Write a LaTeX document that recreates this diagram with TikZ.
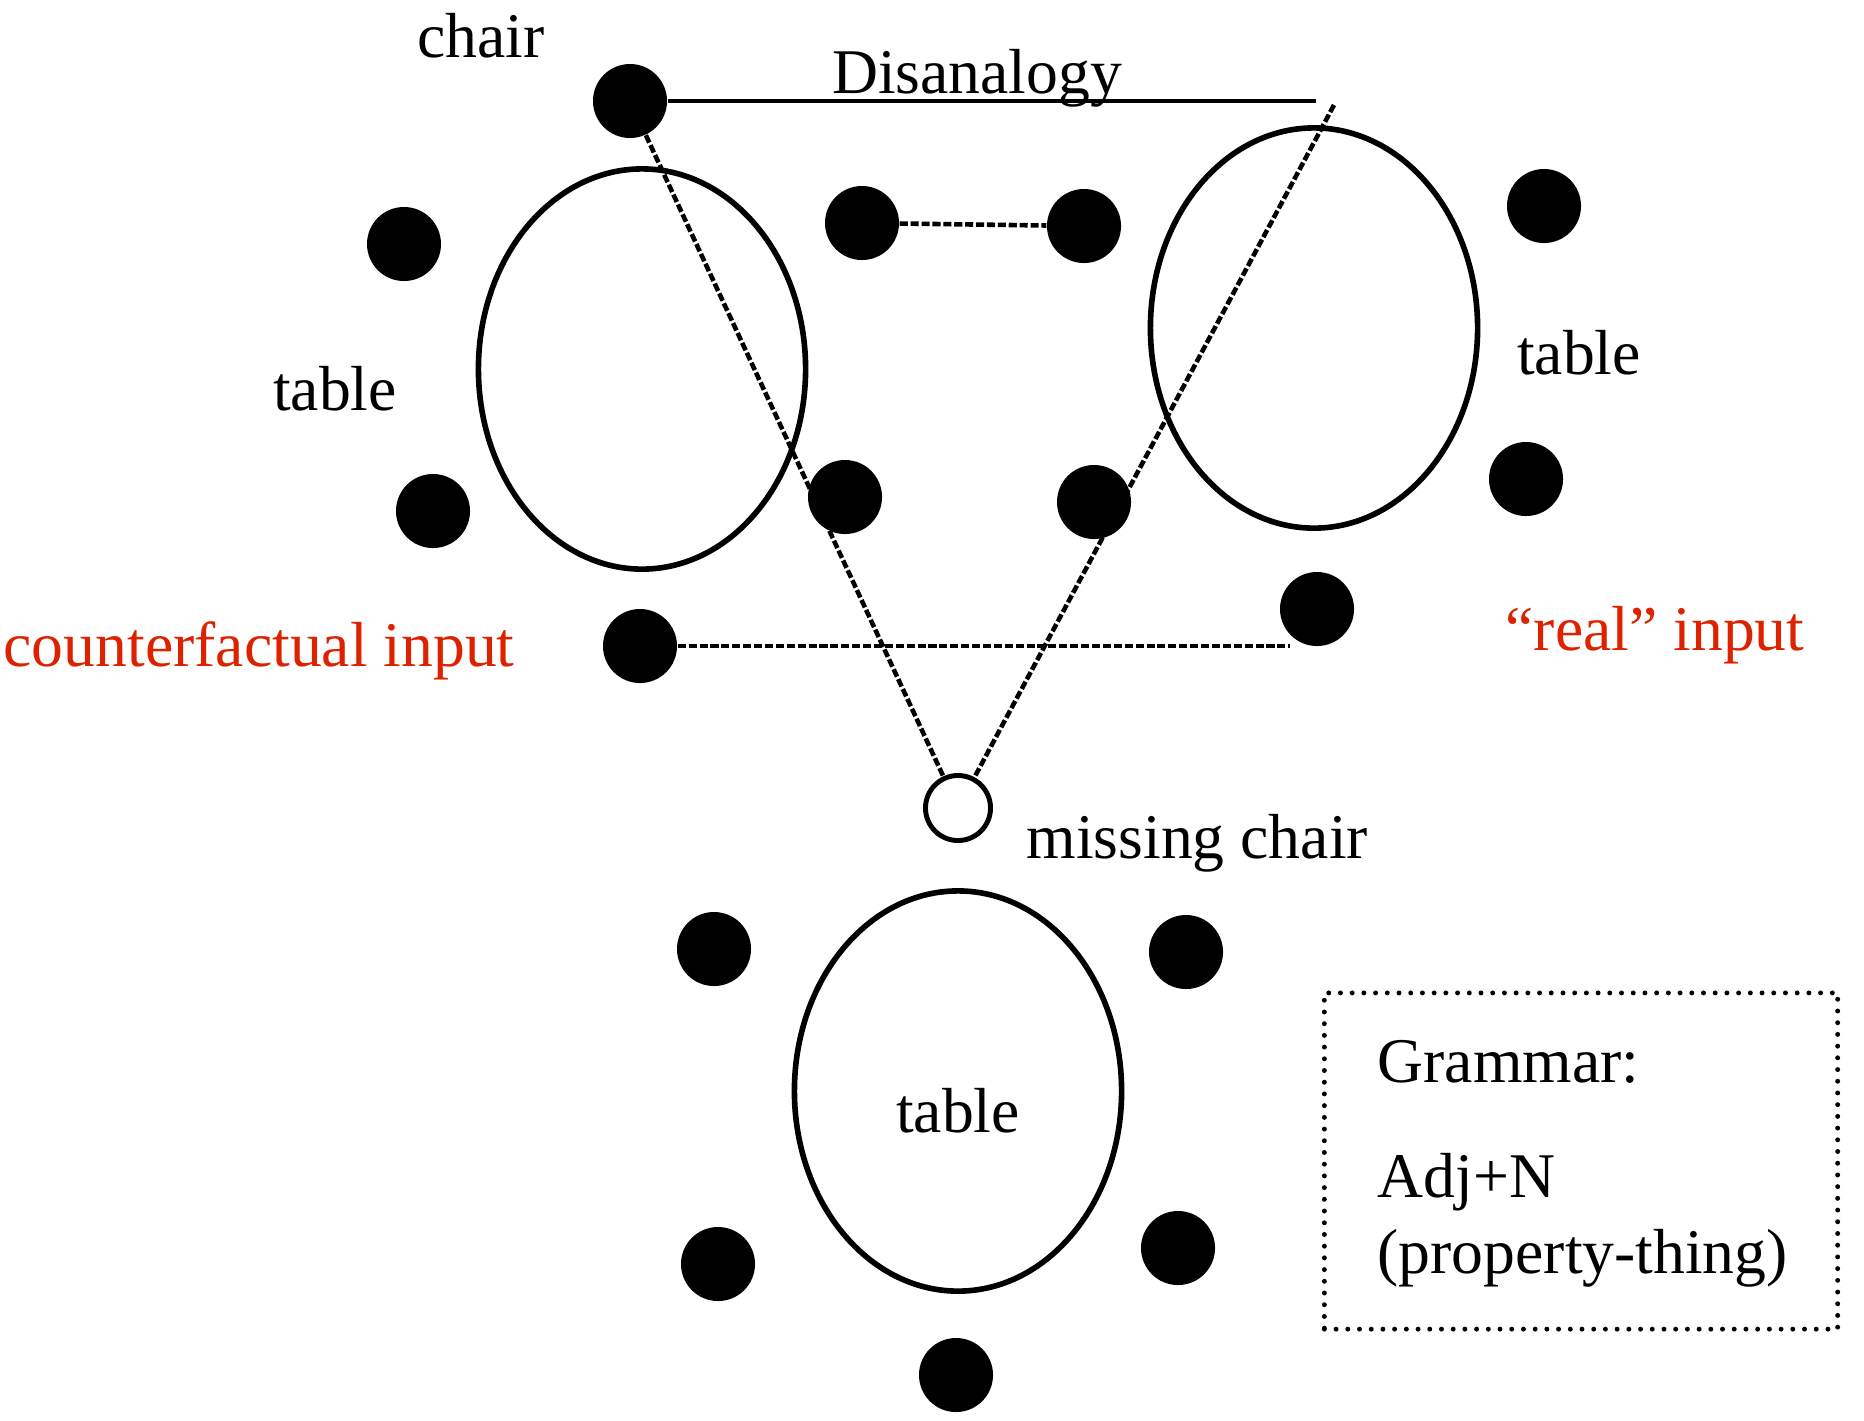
\documentclass[tikz,border=0pt]{standalone}
\usepackage{fontspec}
\setmainfont{Liberation Serif}
\usepackage{xcolor}
\usepackage{tikz}
\usetikzlibrary{positioning, calc, shapes.geometric}
\definecolor{InputRed}{RGB}{221, 34, 0}

\tikzset{
  chairdot/.style={circle, fill=black, inner sep=0pt, minimum size=0.74cm},
  emptychair/.style={circle, draw=black, line width=1.4pt, fill=white, inner sep=0pt, minimum size=0.65cm},
  tablering/.style={ellipse, draw=black, line width=1.6pt, inner sep=0pt, minimum width=3.27cm, minimum height=4.0cm},
  dashlink/.style={line width=1.3pt, dash pattern=on 2.3pt off 0.8pt},
  disline/.style={line width=1.2pt},
  word/.style={anchor=base, inner sep=0pt, font=\fontsize{18.1}{21.7}\selectfont},
  redword/.style={word, text=InputRed}
}

\begin{document}
\begin{tikzpicture}[x=0.01cm, y=-0.01cm]
  \useasboundingbox (0,0) rectangle (1864,1420);

  % tables
  \node[tablering] (cftable) at (642,369) {};
  \node[tablering] (realtable) at (1314,328) {};
  \node[tablering] (blendtable) at (958,1091) {};

  % chairs of the counterfactual input
  \node[chairdot] (cfchair) at (630,101) {};
  \node[chairdot] (cfa) at (404,244) {};
  \node[chairdot] (cfb) at (433,511) {};
  \node[chairdot] (cfc) at (862,223) {};
  \node[chairdot] (cfd) at (845,497) {};
  \node[chairdot] (cfe) at (640,646) {};

  % chairs of the real input
  \node[chairdot] (rla) at (1084,226) {};
  \node[chairdot] (rlb) at (1544,206) {};
  \node[chairdot] (rlc) at (1526,479) {};
  \node[chairdot] (rld) at (1094,502) {};
  \node[chairdot] (rle) at (1317,609) {};

  % chairs of the blend
  \node[chairdot] (bla) at (714,949) {};
  \node[chairdot] (blb) at (1186,952) {};
  \node[chairdot] (blc) at (718,1264) {};
  \node[chairdot] (bld) at (1178,1248) {};
  \node[chairdot] (ble) at (956,1375) {};
  \node[emptychair] (missing) at (958,808) {};

  \coordinate (disend) at (1316,101);
  \coordinate (slanttop) at (1334,105);

  % connectors
  \draw[disline] (cfchair) -- (disend);
  \draw[dashlink] (cfchair) -- (missing);
  \draw[dashlink] (slanttop) -- (missing);
  \draw[dashlink] (cfc) -- (rla);
  \draw[dashlink] (cfe) -- (cfe -| rle.south west);

  % labels
  \node[word] (chairlbl) at (481,57) {chair};
  \node[word] (dislbl) at (977,93) {Disanalogy};
  \node[word] (cftablelbl) at (335,410) {table};
  \node[word] (realtablelbl) at (1579,374) {table};
  \node[word] (blendtablelbl) at (958,1132) {table};
  \node[word, anchor=base west] (missinglbl) at (1026,858) {missing chair};
  \node[redword, anchor=base west] (cflbl) at (3,666) {counterfactual input};
  \node[redword] (reallbl) at (1655,650) {``real'' input};

  % grammar box
  \node[
    draw=black,
    line width=1.4pt,
    line cap=round,
    dash pattern=on 0pt off 3.33pt,
    minimum width=5.13cm,
    minimum height=3.36cm
  ] (grammarbox) at (1581,1161) {};
  \node[word, anchor=base west] (grammarlbl) at (1377,1082) {Grammar:};
  \node[word, anchor=base west] (adjlbl) at (1377,1197) {Adj+N};
  \node[word, anchor=base west] (proplbl) at (1377,1273) {(property-thing)};
\end{tikzpicture}
\end{document}
